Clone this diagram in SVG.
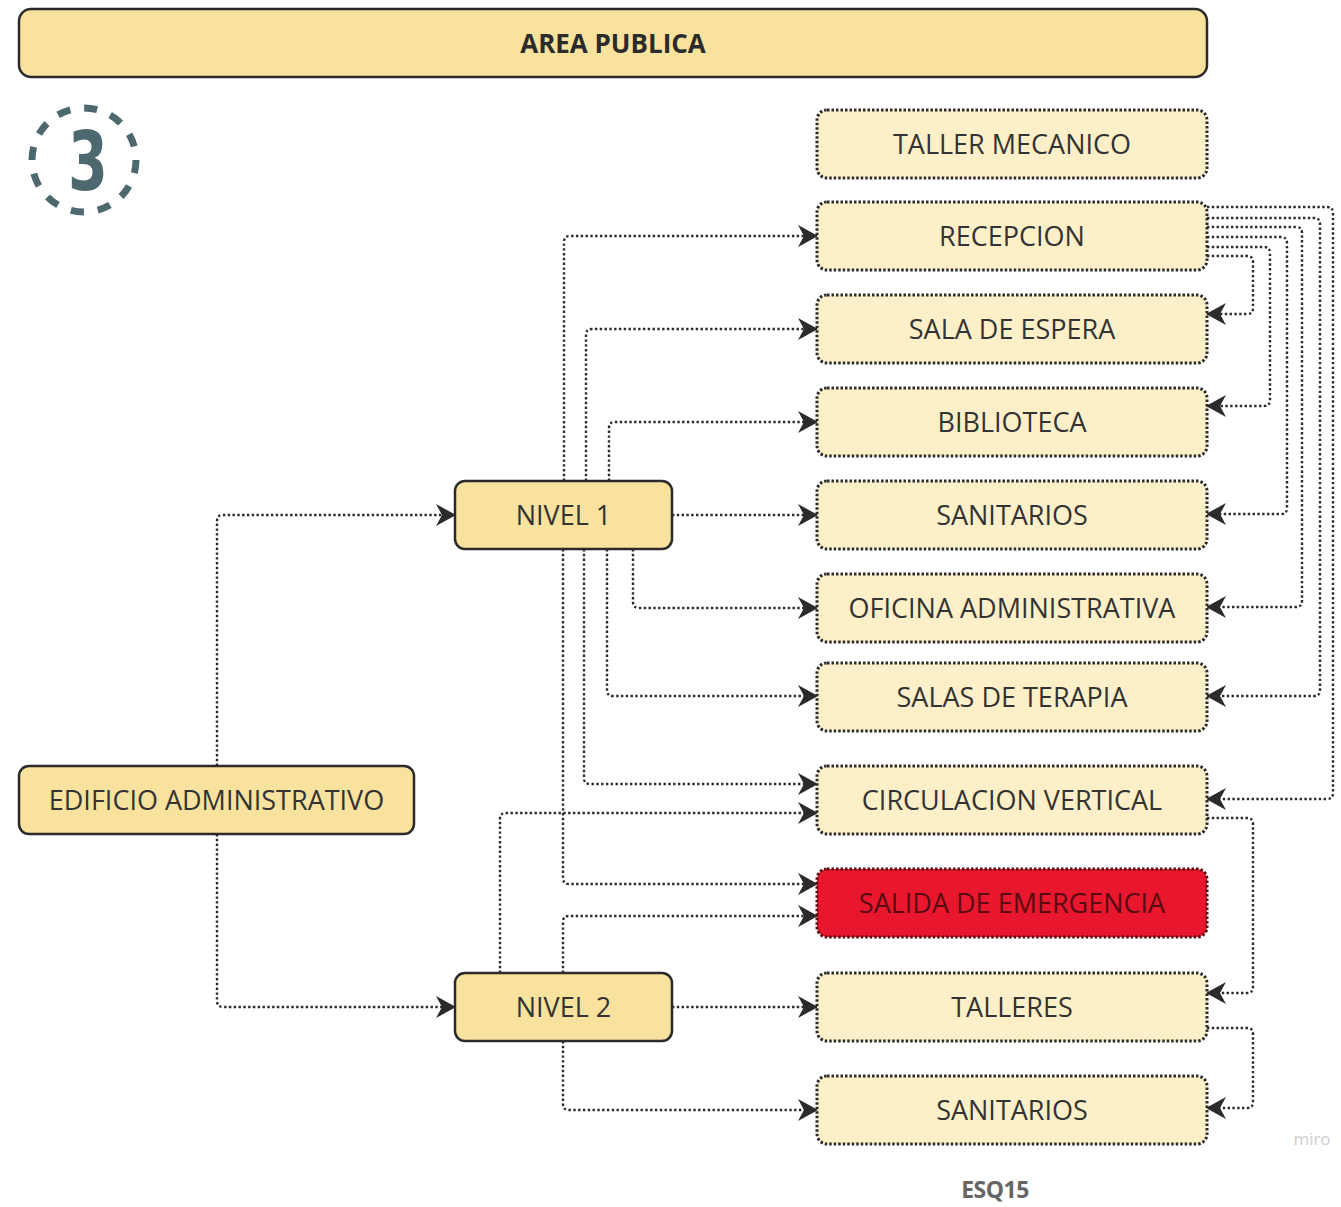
<svg xmlns="http://www.w3.org/2000/svg" width="1341" height="1207" viewBox="0 0 1341 1207">
<defs>
<style>
.solid{fill:#f9e29d;stroke:#2b2b2b;stroke-width:2.5}
.dot{fill:#fdf0c8;stroke:#2b2b2b;stroke-width:3;stroke-dasharray:2.5 2}
.red{fill:#e8172e;stroke:#5a0a10;stroke-width:3;stroke-dasharray:2.5 2}
.lbl{font-family:"Open Sans","Liberation Sans",sans-serif;font-size:27px;fill:#333;text-anchor:middle}
.lblr{font-family:"Open Sans","Liberation Sans",sans-serif;font-size:27px;fill:#5a0a10;text-anchor:middle}
.conn path{fill:none;stroke:#2b2b2b;stroke-width:2.4;stroke-dasharray:2.4 2.4;marker-end:url(#arr)}
</style>
<marker id="arr" markerUnits="userSpaceOnUse" markerWidth="20" markerHeight="22" viewBox="0 0 20 22" refX="19" refY="11" orient="auto">
<path d="M0,0 L20,11 L0,22 L6,11 Z" fill="#2b2b2b"/>
</marker>
</defs>
<rect width="1341" height="1207" fill="#ffffff"/>

<g id="area-publica">
<rect class="solid" x="19" y="9" width="1188" height="68" rx="12"/>
<text x="613" y="52.5" style="font-family:'Open Sans','Liberation Sans',sans-serif;font-size:26px;font-weight:bold;fill:#2b2b2b;text-anchor:middle">AREA PUBLICA</text>
</g>

<g id="badge-3">
<circle cx="84" cy="160" r="52" fill="none" stroke="#4e6870" stroke-width="7" stroke-dasharray="13.2 14"/>
<text x="0" y="0" transform="translate(88,190) scale(0.7,1)" style="font-family:'DejaVu Sans',sans-serif;font-size:82px;font-weight:bold;fill:#4e6870;text-anchor:middle">3</text>
</g>

<g class="conn">
<path d="M217,766 V521 Q217,515 223,515 H455"/>
<path d="M217,834 V1001 Q217,1007 223,1007 H455"/>
<path d="M564,481 V242 Q564,236 570,236 H817"/>
<path d="M586,481 V335 Q586,329 592,329 H817"/>
<path d="M609,481 V428 Q609,422 615,422 H817"/>
<path d="M672,515 H817"/>
<path d="M633,549 V602 Q633,608 639,608 H817"/>
<path d="M607,549 V690 Q607,696 613,696 H817"/>
<path d="M584,549 V778 Q584,784 590,784 H817"/>
<path d="M563,549 V878 Q563,884 569,884 H817"/>
<path d="M500,973 V819 Q500,813 506,813 H817"/>
<path d="M563,973 V922 Q563,916 569,916 H817"/>
<path d="M672,1007 H817"/>
<path d="M563,1041 V1104 Q563,1110 569,1110 H817"/>
<path d="M1207,256 H1247 Q1253,256 1253,262 V308 Q1253,314 1247,314 H1207"/>
<path d="M1207,247 H1264 Q1270,247 1270,253 V400 Q1270,406 1264,406 H1207"/>
<path d="M1207,237 H1281 Q1287,237 1287,243 V508 Q1287,514 1281,514 H1207"/>
<path d="M1207,227 H1296 Q1302,227 1302,233 V601 Q1302,607 1296,607 H1207"/>
<path d="M1207,218 H1314 Q1320,218 1320,224 V690 Q1320,696 1314,696 H1207"/>
<path d="M1207,207 H1327 Q1333,207 1333,213 V793 Q1333,799 1327,799 H1207"/>
<path d="M1207,818 H1247 Q1253,818 1253,824 V987 Q1253,993 1247,993 H1207"/>
<path d="M1207,1028 H1247 Q1253,1028 1253,1034 V1102 Q1253,1108 1247,1108 H1207"/>
</g>

<g id="edificio">
<rect class="solid" x="19" y="766" width="395" height="68" rx="10"/>
<text class="lbl" x="216.5" y="809.5">EDIFICIO ADMINISTRATIVO</text>
</g>
<g id="nivel1">
<rect class="solid" x="455" y="481" width="217" height="68" rx="10"/>
<text class="lbl" x="563.5" y="524.5">NIVEL 1</text>
</g>
<g id="nivel2">
<rect class="solid" x="455" y="973" width="217" height="68" rx="10"/>
<text class="lbl" x="563.5" y="1016.5">NIVEL 2</text>
</g>

<g id="taller-mecanico">
<rect class="dot" x="817" y="110" width="390" height="68" rx="10"/>
<text class="lbl" x="1012" y="153.5">TALLER MECANICO</text>
</g>
<g id="recepcion">
<rect class="dot" x="817" y="202" width="390" height="68" rx="10"/>
<text class="lbl" x="1012" y="245.5">RECEPCION</text>
</g>
<g id="sala-espera">
<rect class="dot" x="817" y="295" width="390" height="68" rx="10"/>
<text class="lbl" x="1012" y="338.5">SALA DE ESPERA</text>
</g>
<g id="biblioteca">
<rect class="dot" x="817" y="388" width="390" height="68" rx="10"/>
<text class="lbl" x="1012" y="431.5">BIBLIOTECA</text>
</g>
<g id="sanitarios-1">
<rect class="dot" x="817" y="481" width="390" height="68" rx="10"/>
<text class="lbl" x="1012" y="524.5">SANITARIOS</text>
</g>
<g id="oficina">
<rect class="dot" x="817" y="574" width="390" height="68" rx="10"/>
<text class="lbl" x="1012" y="617.5">OFICINA ADMINISTRATIVA</text>
</g>
<g id="terapia">
<rect class="dot" x="817" y="663" width="390" height="68" rx="10"/>
<text class="lbl" x="1012" y="706.5">SALAS DE TERAPIA</text>
</g>
<g id="circulacion">
<rect class="dot" x="817" y="766" width="390" height="68" rx="10"/>
<text class="lbl" x="1012" y="809.5">CIRCULACION VERTICAL</text>
</g>
<g id="salida">
<rect class="red" x="817" y="869" width="390" height="68" rx="10"/>
<text class="lblr" x="1012" y="912.5">SALIDA DE EMERGENCIA</text>
</g>
<g id="talleres">
<rect class="dot" x="817" y="973" width="390" height="68" rx="10"/>
<text class="lbl" x="1012" y="1016.5">TALLERES</text>
</g>
<g id="sanitarios-2">
<rect class="dot" x="817" y="1076" width="390" height="68" rx="10"/>
<text class="lbl" x="1012" y="1119.5">SANITARIOS</text>
</g>

<text x="1312" y="1145" style="font-family:'Open Sans','Liberation Sans',sans-serif;font-size:17px;fill:#cfcfcf;text-anchor:middle">miro</text>
<text x="995" y="1198" style="font-family:'Open Sans','Liberation Sans',sans-serif;font-size:23px;font-weight:bold;fill:#666;text-anchor:middle;letter-spacing:-0.5px">ESQ15</text>
</svg>
